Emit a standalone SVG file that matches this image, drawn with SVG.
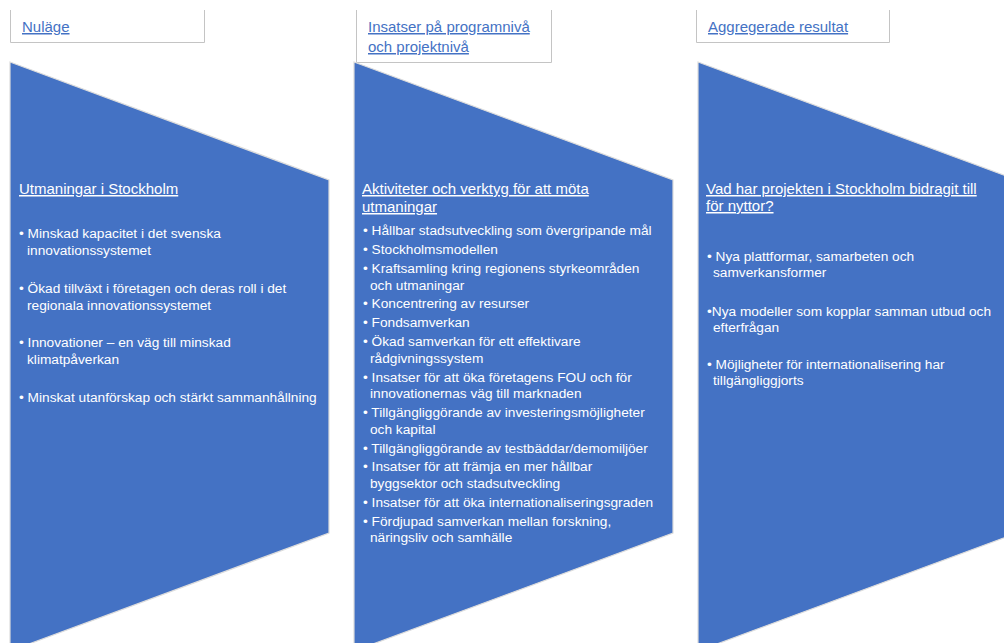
<svg xmlns="http://www.w3.org/2000/svg" width="1004" height="643" viewBox="0 0 1004 643">
<style>
.hdr{fill:none;stroke:#c4c4c4;stroke-width:1}
.ht{font-family:"Liberation Sans",Arial,sans-serif;font-size:15px;fill:#4472C4;text-decoration:underline}
.shape{fill:#4472C4;stroke:#dcdcdc;stroke-width:1.2}
.tt{font-family:"Liberation Sans",Arial,sans-serif;font-size:15px;fill:#ffffff;text-decoration:underline}
.bt{font-family:"Liberation Sans",Arial,sans-serif;font-size:13.7px;fill:#ffffff}
</style>
<rect width="1004" height="643" fill="#ffffff"/>

<g id="header1">
<path class="hdr" d="M10.5,10 V42.5 H204.5 V10"/>
<text class="ht" x="22" y="32">Nuläge</text>
</g>
<g id="header2">
<path class="hdr" d="M356.5,10 V62.5 H551.5 V10"/>
<text class="ht" x="368" y="32">Insatser på programnivå</text>
<text class="ht" x="368" y="52">och projektnivå</text>
</g>
<g id="header3">
<path class="hdr" d="M696.5,10 V42.5 H889.5 V10"/>
<text class="ht" x="708" y="32">Aggregerade resultat</text>
</g>

<g id="col1">
<polygon class="shape" points="10,62 329,180 329,533 10,651"/>
<text class="tt" x="19" y="194">Utmaningar i Stockholm</text>
<text class="bt" x="19" y="238">• Minskad kapacitet i det svenska</text>
<text class="bt" x="27" y="255">innovationssystemet</text>
<text class="bt" x="19" y="293">• Ökad tillväxt i företagen och deras roll i det</text>
<text class="bt" x="27" y="310">regionala innovationssystemet</text>
<text class="bt" x="19" y="347">• Innovationer – en väg till minskad</text>
<text class="bt" x="27" y="364">klimatpåverkan</text>
<text class="bt" x="19" y="402">• Minskat utanförskap och stärkt sammanhållning</text>
</g>

<g id="col2">
<polygon class="shape" points="354,62 673,180 673,533 354,651"/>
<text class="tt" x="362" y="194">Aktiviteter och verktyg för att möta</text>
<text class="tt" x="362" y="212">utmaningar</text>
<text class="bt" x="363" y="235">• Hållbar stadsutveckling som övergripande mål</text>
<text class="bt" x="363" y="254">• Stockholmsmodellen</text>
<text class="bt" x="363" y="273">• Kraftsamling kring regionens styrkeområden</text>
<text class="bt" x="370" y="290">och utmaningar</text>
<text class="bt" x="363" y="308">• Koncentrering av resurser</text>
<text class="bt" x="363" y="327">• Fondsamverkan</text>
<text class="bt" x="363" y="346">• Ökad samverkan för ett effektivare</text>
<text class="bt" x="370" y="363">rådgivningssystem</text>
<text class="bt" x="363" y="382">• Insatser för att öka företagens FOU och för</text>
<text class="bt" x="370" y="398">innovationernas väg till marknaden</text>
<text class="bt" x="363" y="417">• Tillgängliggörande av investeringsmöjligheter</text>
<text class="bt" x="370" y="434">och kapital</text>
<text class="bt" x="363" y="453">• Tillgängliggörande av testbäddar/demomiljöer</text>
<text class="bt" x="363" y="471">• Insatser för att främja en mer hållbar</text>
<text class="bt" x="370" y="488">byggsektor och stadsutveckling</text>
<text class="bt" x="363" y="507">• Insatser för att öka internationaliseringsgraden</text>
<text class="bt" x="363" y="526">• Fördjupad samverkan mellan forskning,</text>
<text class="bt" x="370" y="542">näringsliv och samhälle</text>
</g>

<g id="col3">
<polygon class="shape" points="698,62 1017,180 1017,533 698,651"/>
<text class="tt" x="706" y="194">Vad har projekten i Stockholm bidragit till</text>
<text class="tt" x="706" y="211">för nyttor?</text>
<text class="bt" x="707" y="261">• Nya plattformar, samarbeten och</text>
<text class="bt" x="713" y="277">samverkansformer</text>
<text class="bt" x="707" y="316">•Nya modeller som kopplar samman utbud och</text>
<text class="bt" x="713" y="332">efterfrågan</text>
<text class="bt" x="707" y="369">• Möjligheter för internationalisering har</text>
<text class="bt" x="713" y="385">tillgängliggjorts</text>
</g>

<g id="connectors"/>
</svg>
